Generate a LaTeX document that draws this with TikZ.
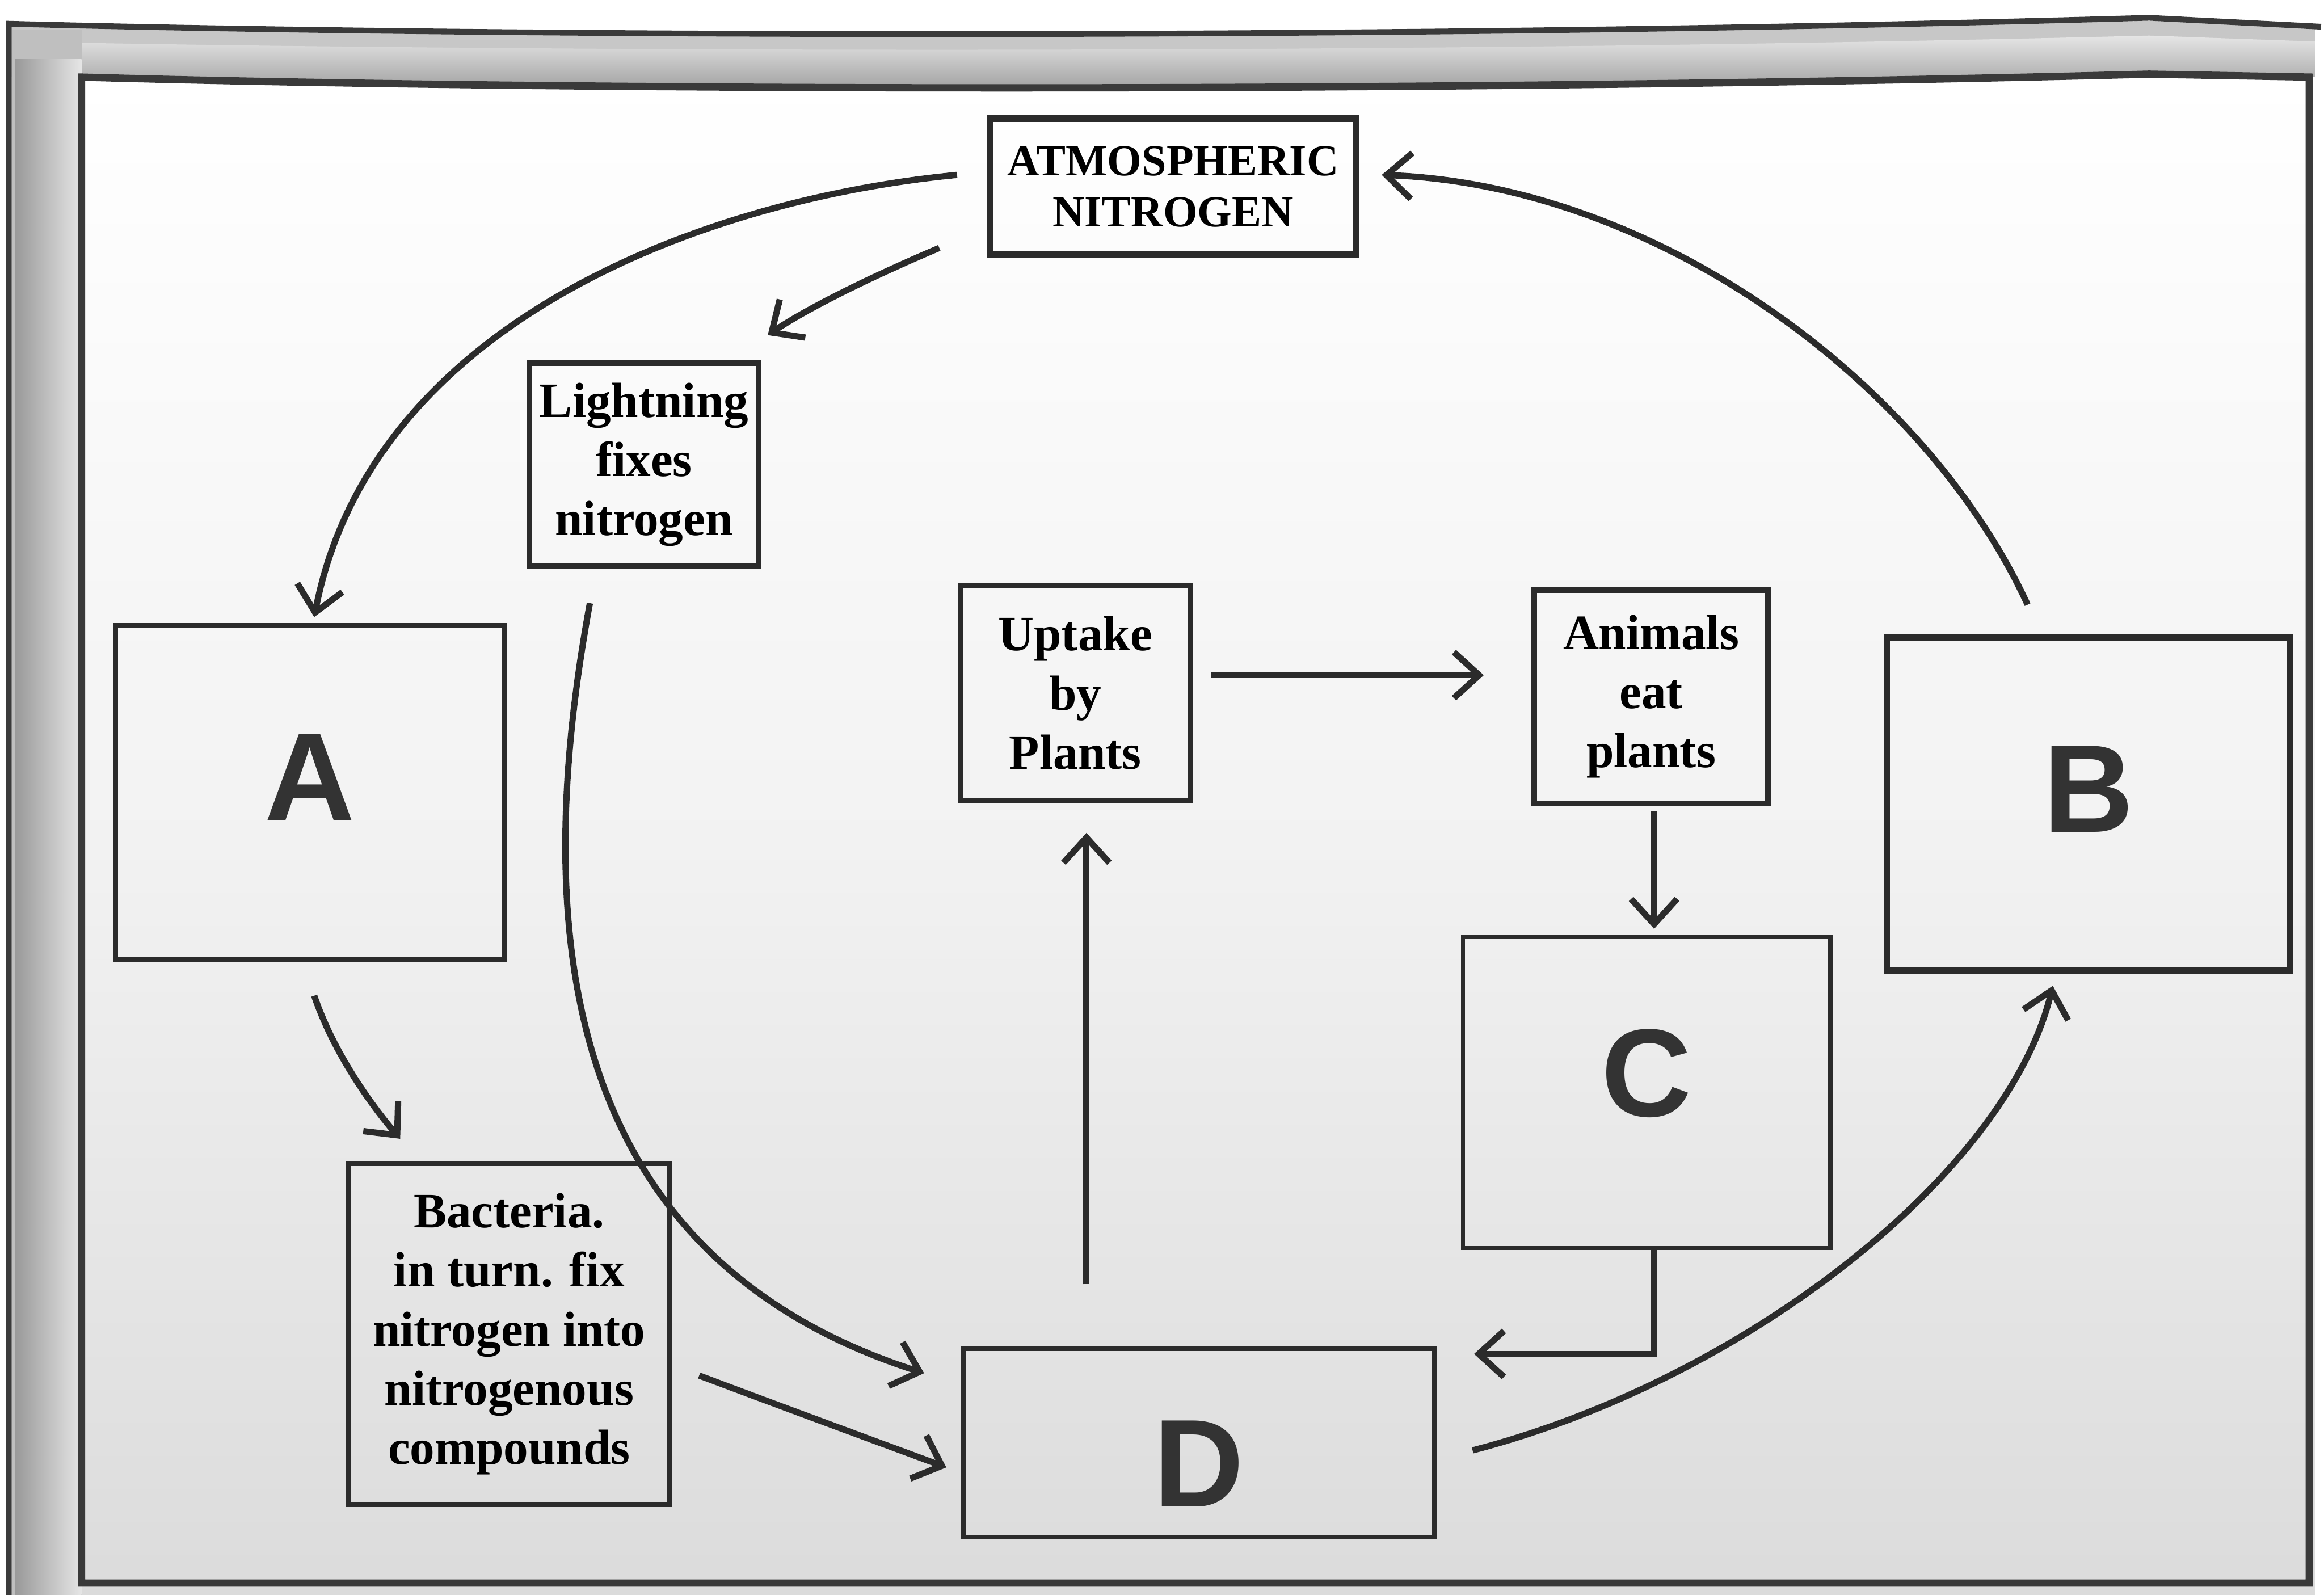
\documentclass[tikz,border=0pt]{standalone}
\usepackage{fontspec}
\setmainfont{Liberation Serif}
\newfontfamily\lettersf{Liberation Sans}
\usetikzlibrary{arrows.meta,calc}
\definecolor{linec}{HTML}{2B2B2B}
\definecolor{textc}{HTML}{333333}
\definecolor{framec}{HTML}{3A3A3A}
\begin{document}
\begin{tikzpicture}[x=0.02cm,y=-0.02cm,
  box/.style={draw=linec, line width=2.2pt, inner sep=0pt, align=center,
    font=\bfseries\fontsize{19}{22.7}\selectfont, text=black},
  bigbox/.style={draw=linec, line width=2pt, inner sep=0pt,
    font=\lettersf\bfseries\fontsize{48}{48}\selectfont, text=textc},
  conn/.style={draw=linec, line width=2.4pt,
    -{Straight Barb[length=0.34cm,width=0.62cm]}}]
\useasboundingbox (0,0) rectangle (1568,1076);
% photo background
\fill[white] (0,0) rectangle (1568,1076);
\shade[top color=white, bottom color=black!14, middle color=black!5]
  (12,50) rectangle (1562,1076);
% top shadow band of the page
\fill[black!22] (8,18) .. controls (300,24) and (900,28) .. (1450,14)
  -- (1562,18) -- (1562,52) -- (1450,50)
  .. controls (1000,62) and (400,62) .. (55,52) -- (8,52) -- cycle;
\shade[top color=black!10, bottom color=black!38]
  (8,28) .. controls (300,34) and (900,38) .. (1450,24) -- (1562,28)
  -- (1562,52) -- (1450,50) .. controls (1000,62) and (400,62) .. (55,52)
  -- (8,52) -- cycle;
\fill[black!25] (8,20) rectangle (55,1076);
\shade[left color=black!40, right color=black!10] (10,40) rectangle (55,1076);
% page edge
\draw[framec, line width=2.2pt] (6,1076) -- (6,16)
  .. controls (300,24) and (900,28) .. (1450,12) -- (1566,18);
% printed frame
\draw[framec, line width=2.8pt] (55,1068) -- (55,52)
  .. controls (400,62) and (1000,62) .. (1450,50) -- (1558,52)
  -- (1558,1068) -- cycle;

% boxes
\node[box, line width=2.6pt, minimum width=4.94cm, minimum height=1.84cm,
  font=\bfseries\fontsize{17}{19.5}\selectfont] (atm) at (791.5,126)
  {ATMOSPHERIC\\NITROGEN};
\node[box, minimum width=3.1cm, minimum height=2.74cm] (light) at (434.5,313.5)
  {Lightning\\fixes\\nitrogen};
\node[bigbox, minimum width=5.24cm, minimum height=4.5cm,
  text height=1.24cm, text depth=0.48cm] (A) at (209,534.5) {A};
\node[box, minimum width=3.1cm, minimum height=2.9cm] (up) at (725.5,467.5)
  {Uptake\\by\\Plants};
\node[box, minimum width=3.16cm, minimum height=2.88cm] (ani) at (1114,470)
  {Animals\\eat\\plants};
\node[bigbox, line width=2.4pt, minimum width=5.44cm, minimum height=4.5cm,
  text height=1.24cm, text depth=0.48cm] (B) at (1409,542.5) {B};
\node[bigbox, line width=1.6pt, minimum width=4.96cm, minimum height=4.2cm,
  text height=1.24cm, text depth=0.6cm] (C) at (1111,737) {C};
\node[box, line width=2pt, minimum width=4.34cm, minimum height=4.6cm] (bac) at (343.5,900)
  {Bacteria.\\in turn. fix\\nitrogen into\\nitrogenous\\compounds};
\node[bigbox, line width=1.8pt, minimum width=6.36cm, minimum height=2.54cm,
  text height=1.72cm, text depth=0cm] (D) at (809,973.5) {D};

% helper points for straight connectors
\coordinate (upin) at ($(up.south)+(7.5,20)$);
\coordinate (dtop) at ($(D.north)+(0,-42)$);
\coordinate (cout) at ($(C.south)+(5,0)$);
\coordinate (din) at ($(D.north east)+(25,5)$);
\coordinate (aniout) at ($(ani.south)+(2,3)$);
\coordinate (cin) at ($(C.north)+(5,-4)$);
\coordinate (upout) at ($(up.east)+(12,-12)$);
\coordinate (aniin) at ($(ani.west)+(-32,-15)$);

% connectors
\draw[conn] ($(atm.west)+(-20,-8)$) .. controls (470,135) and (250,220)
  .. ($(A.north)+(3,-4)$);
\draw[conn] ($(atm.south west)+(-32,-7)$) .. controls (585,188) and (545,208)
  .. ($(light.north)+(83.5,-17)$);
\draw[conn] ($(light.south)+(-36.5,23)$) .. controls (355,640) and (385,850)
  .. ($(D.north west)+(-25,18)$);
\draw[conn] ($(A.south)+(3,23)$) .. controls (225,710) and (250,745)
  .. ($(bac.north)+(-73.5,-15)$);
\draw[conn] ($(bac.east)+(18,28)$) .. controls (530,950) and (590,972)
  .. ($(D.west)+(-10,16.5)$);
\draw[conn] (upin |- dtop) -- (upin);
\draw[conn] (upout) -- (upout -| aniin);
\draw[conn] (aniout) -- (aniout |- cin);
\draw[conn] (cout) |- (din);
\draw[conn] ($(D.east)+(24,5)$) .. controls (1180,930) and (1355,790)
  .. ($(B.south)+(-24,8)$);
\draw[conn] ($(B.north)+(-41,-20)$) .. controls (1300,260) and (1120,125)
  .. ($(atm.east)+(15,-8)$);
\end{tikzpicture}
\end{document}
